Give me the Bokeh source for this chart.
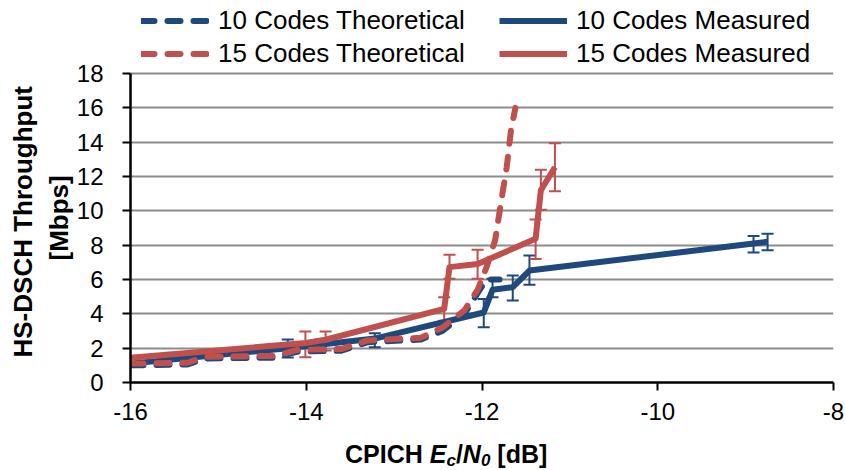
import numpy as np
from bokeh.plotting import figure
from bokeh.layouts import column
from bokeh.models import (ColumnDataSource, Whisker, TeeHead, Legend, LegendItem, Title,
                          Range1d, FixedTicker, CustomJSTickFormatter, Div)
from bokeh.embed import file_html
from bokeh.resources import INLINE

# ---------------- data ----------------
t10_x = [-16.0, -15.35, -15.15, -14.35, -14.1, -13.6, -13.3, -12.7, -12.45, -12.2, -12.05, -11.95, -11.8]
t10_y = [1.0, 1.05, 1.4, 1.45, 1.8, 1.85, 2.35, 2.5, 3.0, 4.0, 5.2, 6.0, 6.0]

t15_x = [-16.0, -15.35, -15.15, -14.35, -14.1, -13.6, -13.3, -12.7, -12.45, -12.2, -12.05,
         -11.95, -11.85, -11.78, -11.72, -11.67, -11.62]
t15_y = [1.1, 1.15, 1.5, 1.55, 1.9, 1.95, 2.45, 2.6, 3.2, 4.2, 5.4, 6.7, 8.3, 10.6, 12.5, 14.7, 16.0]

m10_x = [-16.0, -14.21, -13.22, -11.98, -11.88, -11.65, -11.46, -8.91, -8.75]
m10_y = [1.1, 2.0, 2.56, 4.08, 5.4, 5.55, 6.52, 8.1, 8.2]
m10_lo = [None, 1.46, 2.06, 3.22, 4.97, 4.78, 5.69, 7.58, 7.70]
m10_hi = [None, 2.5, 2.87, 4.87, 6.04, 6.23, 7.4, 8.54, 8.67]

m15_x = [-16.0, -14.01, -13.78, -12.43, -12.37, -12.05, -11.39, -11.33, -11.17]
m15_y = [1.44, 2.3, 2.49, 4.29, 6.72, 6.9, 8.37, 11.2, 12.54]
m15_lo = [None, 1.47, 1.86, 3.6, 6.04, 6.04, 7.2, 10.06, 11.14]
m15_hi = [None, 2.97, 2.97, 4.97, 7.44, 7.73, 9.49, 12.39, 13.94]

x_ticks = [-16, -14, -12, -10, -8]
y_ticks = [0, 2, 4, 6, 8, 10, 12, 14, 16, 18]
y_axis_max = 18

labels = ["10 Codes Theoretical", "15 Codes Theoretical", "10 Codes Measured", "15 Codes Measured"]
y_title = ["HS-DSCH Throughput", "[Mbps]"]
x_title_html = "CPICH <i>E<sub>c</sub></i>/<i>N<sub>0</sub></i> [dB]"

BLUE = "#1F497D"
RED = "#C0504D"
FONT = "Liberation Sans"

# frame spans the whole canvas height above the x-axis; the top 73 px hold the legend
FRAME_H = 382
AXIS_TOP_PX = 73
y_top = y_axis_max * FRAME_H / (FRAME_H - AXIS_TOP_PX)

p = figure(width=845, height=440, x_range=Range1d(-16, -8), y_range=Range1d(0, y_top),
           output_backend="svg", toolbar_location=None,
           min_border_left=130, min_border_right=12, min_border_top=0, min_border_bottom=58)
p.title.visible = False
p.outline_line_color = None
p.background_fill_color = "white"
p.border_fill_color = "white"
p.xgrid.visible = False
p.ygrid.grid_line_color = "#8C8C8C"
p.ygrid.grid_line_width = 2
p.xaxis.ticker = FixedTicker(ticks=x_ticks)
p.yaxis.ticker = FixedTicker(ticks=y_ticks)
p.yaxis.bounds = (0, y_axis_max)
for ax in (p.xaxis, p.yaxis):
    ax.axis_line_color = "black"
    ax.axis_line_width = 2.5
    ax.major_tick_line_color = "black"
    ax.major_tick_line_width = 2
    ax.major_tick_out = 8
    ax.major_tick_in = 0
    ax.minor_tick_line_color = None
    ax.major_label_text_font = FONT
    ax.major_label_text_font_size = "24px"
    ax.major_label_text_color = "black"
    ax.formatter = CustomJSTickFormatter(code="return tick.toString();")
p.xaxis.major_label_standoff = 12
p.yaxis.major_label_standoff = 19

dash = "13 13"
r10t = p.line(t10_x, t10_y, line_color=BLUE, line_width=6, line_dash=dash, line_cap="round", line_join="round")
r10m = p.line(m10_x, m10_y, line_color=BLUE, line_width=6, line_join="round")
r15t = p.line(t15_x, t15_y, line_color=RED, line_width=6, line_dash=dash, line_cap="round", line_join="round")
r15m = p.line(m15_x, m15_y, line_color=RED, line_width=6, line_join="round")


def add_err(xs, lo, hi, color):
    idx = [i for i in range(len(xs)) if lo[i] is not None]
    src = ColumnDataSource(dict(base=[xs[i] for i in idx], lower=[lo[i] for i in idx],
                                upper=[hi[i] for i in idx]))
    w = Whisker(source=src, base="base", lower="lower", upper="upper",
                line_color=color, line_width=2,
                upper_head=TeeHead(size=12, line_color=color, line_width=2),
                lower_head=TeeHead(size=12, line_color=color, line_width=2))
    p.add_layout(w)


add_err(m10_x, m10_lo, m10_hi, BLUE)
add_err(m15_x, m15_lo, m15_hi, RED)


def make_legend(items, loc):
    lg = Legend(items=items, location=loc, orientation="vertical",
                label_text_font=FONT, label_text_font_size="26px", label_text_color="black",
                glyph_width=68, glyph_height=31, label_height=31, label_standoff=9,
                padding=0, margin=0, spacing=2, border_line_color=None,
                background_fill_alpha=0)
    p.add_layout(lg)


make_legend([LegendItem(label=labels[0], renderers=[r10t]),
             LegendItem(label=labels[1], renderers=[r15t])], (11, 313))
make_legend([LegendItem(label=labels[2], renderers=[r10m]),
             LegendItem(label=labels[3], renderers=[r15m])], (369, 313))

# y-axis title, two lines (inner line added first)
p.add_layout(Title(text=y_title[1], align="left", offset=122, standoff=0, text_font=FONT,
                   text_font_size="26px", text_font_style="bold", text_color="black"), "left")
p.add_layout(Title(text=y_title[0], align="left", offset=25, standoff=7, text_font=FONT,
                   text_font_size="26px", text_font_style="bold", text_color="black"), "left")

xlab = Div(text=f'<div style="font-family:\'Liberation Sans\';font-weight:bold;font-size:25px;'
                f'line-height:29px;padding-left:345px;white-space:nowrap;color:black;">'
                f'<style>sub{{font-size:17px;vertical-align:-3px;line-height:0;}}</style>'
                f'{x_title_html}</div>',
           width=845, height=30, margin=0)

layout = column(p, xlab, spacing=0)
open("out.html", "w").write(file_html(layout, INLINE))
